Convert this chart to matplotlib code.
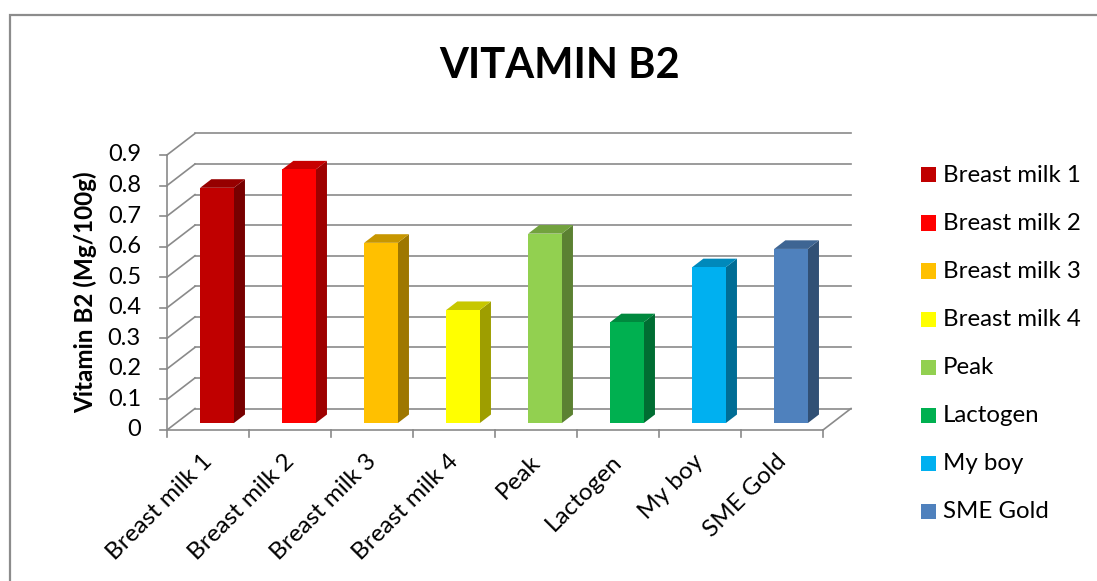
import matplotlib
matplotlib.use("Agg")
import matplotlib.pyplot as plt
from matplotlib.patches import Polygon, Rectangle
import matplotlib.colors as mcolors
import numpy as np

categories = ["Breast milk 1", "Breast milk 2", "Breast milk 3", "Breast milk 4",
              "Peak", "Lactogen", "My boy", "SME Gold"]
values = [0.77, 0.83, 0.59, 0.37, 0.62, 0.33, 0.51, 0.57]
colors = ["#C00000", "#FF0000", "#FFC000", "#FFFF00",
          "#92D050", "#00B050", "#00B0F0", "#4F81BD"]
yticks = [0, 0.1, 0.2, 0.3, 0.4, 0.5, 0.6, 0.7, 0.8, 0.9]
ytick_labels = ["0", "0.1", "0.2", "0.3", "0.4", "0.5", "0.6", "0.7", "0.8", "0.9"]
title = "VITAMIN B2"
ylabel = "Vitamin B2 (Mg/100g)"

plt.rcParams['font.family'] = ['Lato', 'DejaVu Sans']

W, H = 1097, 581
fig = plt.figure(figsize=(W / 100, H / 100), dpi=100)

# pixel geometry of the plot box
PX_CAT = 82.0
PX_UNIT = 305.6
DEPTH_PX_X = 28.0
DEPTH_PX_Y = 21.5
n = len(categories)
ymax = yticks[-1]
DX = DEPTH_PX_X / PX_CAT
DY = DEPTH_PX_Y / PX_UNIT

left_px, bottom_px = 167, 430
width_px = n * PX_CAT + DEPTH_PX_X
height_px = (ymax + DY) * PX_UNIT
ax = fig.add_axes([left_px / W, (H - bottom_px) / H, width_px / W, height_px / H])
ax.set_xlim(0, n + DX)
ax.set_ylim(0, ymax + DY)
ax.axis('off')

grid_c = "#8A8A8A"
glw = 1.2

# back wall gridlines + left wall diagonals
for v in yticks:
    ax.plot([DX, n + DX], [v + DY, v + DY], color=grid_c, lw=glw, clip_on=False, zorder=1)
    ax.plot([0, DX], [v, v + DY], color=grid_c, lw=glw, clip_on=False, zorder=1)
# floor right diagonal
ax.plot([n, n + DX], [0, DY], color=grid_c, lw=glw, clip_on=False, zorder=1)
# front floor line and ticks
tick_len_y = 7 / PX_UNIT
tick_len_x = 7 / PX_CAT
ax.plot([0, n], [0, 0], color=grid_c, lw=glw, clip_on=False, zorder=5)
for i in range(n + 1):
    ax.plot([i, i], [0, -tick_len_y], color=grid_c, lw=glw, clip_on=False, zorder=5)
# y axis line and ticks
ax.plot([0, 0], [0, ymax], color=grid_c, lw=glw, clip_on=False, zorder=5)
for v, lab in zip(yticks, ytick_labels):
    ax.plot([-tick_len_x, 0], [v, v], color=grid_c, lw=glw, clip_on=False, zorder=5)
    ax.text(-26 / PX_CAT, v, lab, ha='right', va='center', fontsize=17,
            color='black', clip_on=False)

# 3D bars
f0, f1 = 0.32, 0.72
bw = 0.41
def shade(c, k):
    r, g, b = mcolors.to_rgb(c)
    return (r * k, g * k, b * k)

for i, (v, c) in enumerate(zip(values, colors)):
    x0 = i + 0.5 - bw / 2
    x1 = i + 0.5 + bw / 2
    front = [(x0 + f0 * DX, f0 * DY), (x1 + f0 * DX, f0 * DY),
             (x1 + f0 * DX, v + f0 * DY), (x0 + f0 * DX, v + f0 * DY)]
    side = [(x1 + f0 * DX, f0 * DY), (x1 + f1 * DX, f1 * DY),
            (x1 + f1 * DX, v + f1 * DY), (x1 + f0 * DX, v + f0 * DY)]
    top = [(x0 + f0 * DX, v + f0 * DY), (x1 + f0 * DX, v + f0 * DY),
           (x1 + f1 * DX, v + f1 * DY), (x0 + f1 * DX, v + f1 * DY)]
    ax.add_patch(Polygon(side, closed=True, facecolor=shade(c, 0.62), edgecolor='none',
                         zorder=3, clip_on=False))
    ax.add_patch(Polygon(top, closed=True, facecolor=shade(c, 0.78), edgecolor='none',
                         zorder=3, clip_on=False))
    ax.add_patch(Polygon(front, closed=True, facecolor=c, edgecolor='none',
                         zorder=4, clip_on=False))

# category labels (rotated)
for i, cat in enumerate(categories):
    ax.text(i + 0.5 - 7 / PX_CAT, -21 / PX_UNIT, cat, rotation=45, rotation_mode='anchor',
            ha='right', va='top', fontsize=17.5, color='black', clip_on=False)

# title and y label
fig.text(560 / W, 1 - 66 / H, title, ha='center', va='center', fontsize=30,
         fontweight='bold', color='black')
fig.text(85 / W, 1 - 292 / H, ylabel, ha='center', va='center', rotation=90,
         fontsize=17.5, fontweight='bold', color='black')

# legend
leg_x = 921
leg_y0 = 175
leg_dy = 48
for j, (cat, c) in enumerate(zip(categories, colors)):
    yc = leg_y0 + j * leg_dy
    fig.patches.append(Rectangle((leg_x / W, 1 - (yc + 7.5) / H), 15 / W, 15 / H,
                                 transform=fig.transFigure, facecolor=c, edgecolor='none'))
    fig.text(943 / W, 1 - yc / H, cat, ha='left', va='center', fontsize=17.3, color='black')

# outer chart border
fig.patches.append(Rectangle((10 / W, -0.05), 1.2, 1 - 15 / H + 0.05,
                             transform=fig.transFigure, facecolor='none',
                             edgecolor='#8C8C8C', lw=1.6))

fig.savefig("out.png", dpi=100)
